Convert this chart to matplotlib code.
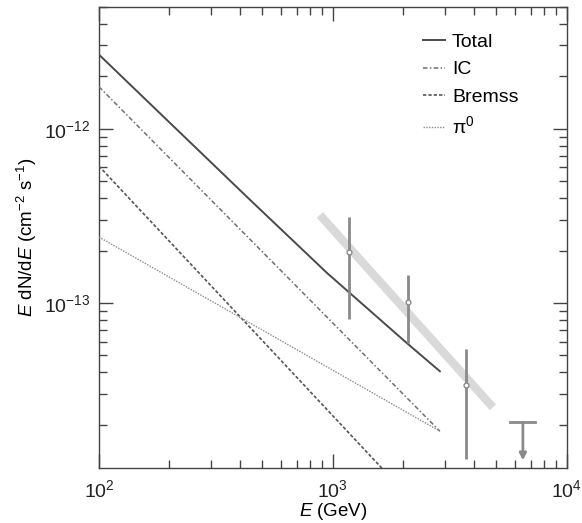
import matplotlib.pyplot as plt
from matplotlib.ticker import NullFormatter

plt.rcParams['font.family'] = ['Liberation Sans', 'DejaVu Sans']
plt.rcParams['mathtext.fontset'] = 'custom'
plt.rcParams['mathtext.rm'] = 'Liberation Sans'
plt.rcParams['mathtext.it'] = 'Liberation Sans:italic'

# Model components (E in GeV, E dN/dE in cm^-2 s^-1)
total_E = [100, 201, 442, 942, 2070, 2865]
total_F = [2.66e-12, 1.08e-12, 3.91e-13, 1.49e-13, 5.89e-14, 4.06e-14]

ic_E = [100, 2865]
ic_F = [1.74e-12, 1.84e-14]

brems_E = [100, 1618]
brems_F = [6.1e-13, 1.13e-14]

pi0_E = [100, 2865]
pi0_F = [2.39e-13, 1.84e-14]

# Best-fit band
fit_E = [879, 4830]
fit_F = [3.2e-13, 2.52e-14]

# Data points with asymmetric errors
pts_E = [1170, 2094, 3698]
pts_F = [1.96e-13, 1.01e-13, 3.38e-14]
pts_hi = [3.12e-13, 1.45e-13, 5.44e-14]
pts_lo = [8.09e-14, 5.89e-14, 1.27e-14]

# Upper limit
ul_E = 6486
ul_F = 2.07e-14
ul_arrow_to = 1.25e-14

# Labelled ticks
x_major = [1e2, 1e3, 1e4]
y_major = [1e-13, 1e-12]

fig = plt.figure(figsize=(5.82, 5.23), dpi=100)
ax = fig.add_axes([0.170, 0.105, 0.804, 0.882])

ax.plot(fit_E, fit_F, color='#d9d9d9', lw=6, solid_capstyle='butt', zorder=1)

ax.plot(total_E, total_F, color='#4a4a4a', lw=1.4, label='Total', zorder=3)
ax.plot(ic_E, ic_F, color='#707070', lw=1.1, dashes=(3, 1.5, 1, 1.5), label='IC', zorder=3)
ax.plot(brems_E, brems_F, color='#555555', lw=1.2, dashes=(2, 1.2), label='Bremss', zorder=3)
ax.plot(pi0_E, pi0_F, color='#8a8a8a', lw=1.0, dashes=(1, 1), label=r'π$^0$', zorder=3)

err_lo = [f - l for f, l in zip(pts_F, pts_lo)]
err_hi = [h - f for f, h in zip(pts_F, pts_hi)]
ax.errorbar(pts_E, pts_F, yerr=[err_lo, err_hi], fmt='o', ms=3.5, mfc='white',
            mec='#8a8a8a', mew=1, ecolor='#8a8a8a', elinewidth=2, capsize=0, zorder=4)

# Upper limit bar + arrow
ax.plot([ul_E / 1.13, ul_E * 1.13], [ul_F, ul_F], color='#8a8a8a', lw=2, zorder=4)
ax.annotate('', xy=(ul_E, ul_arrow_to), xytext=(ul_E, ul_F),
            arrowprops=dict(arrowstyle='-|>', color='#8a8a8a', lw=2,
                            mutation_scale=10, shrinkA=0, shrinkB=0), zorder=4)

ax.set_xscale('log')
ax.set_yscale('log')
ax.set_xticks(x_major)
ax.set_yticks(y_major)
ax.set_xlim(100, 1e4)
ax.set_ylim(1.13e-14, 5.0e-12)
ax.xaxis.set_minor_formatter(NullFormatter())
ax.yaxis.set_minor_formatter(NullFormatter())

ax.tick_params(which='both', direction='in', top=True, right=True, colors='#444444',
               labelcolor='#222222')
ax.tick_params(which='major', length=10, width=1, labelsize=14)
ax.tick_params(which='minor', length=6, width=1)
ax.tick_params(axis='x', which='major', pad=8)
ax.tick_params(axis='y', which='major', pad=6)
for s in ax.spines.values():
    s.set_color('#444444')
    s.set_linewidth(1)

ax.set_xlabel(r'$\it{E}$ (GeV)', fontsize=13.5, labelpad=0)
ax.set_ylabel(r'$\it{E}$ dN/d$\it{E}$ (cm$^{-2}$ s$^{-1}$)', fontsize=13.5, labelpad=4)

leg = ax.legend(loc='upper left', frameon=False, fontsize=14, handlelength=1.15,
                handletextpad=0.35, labelspacing=0.5, borderpad=0, borderaxespad=0,
                bbox_to_anchor=(0.692, 0.942))

fig.savefig('out.png', dpi=100)
